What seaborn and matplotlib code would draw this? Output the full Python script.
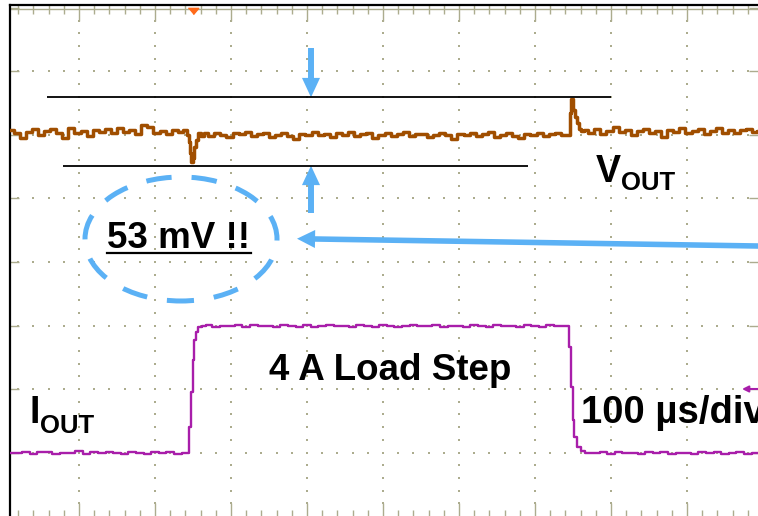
import numpy as np
import pandas as pd
import matplotlib
matplotlib.use("Agg")
import matplotlib.pyplot as plt
from matplotlib.patches import Ellipse
from matplotlib.ticker import MultipleLocator, FixedLocator
import seaborn as sns

# ---------------- data ----------------
# V_OUT trace: time in µs, deviation from the nominal level in mV (50 mV/div)
vout_t = [10, 18, 26, 34, 42, 50, 58, 66, 74, 82, 90, 98, 106, 114, 122, 130, 138, 146,
          154, 162, 170, 178, 186, 194, 202, 210, 218, 226, 234, 240,
          244, 245.5, 247, 249, 250.5, 252.5, 255, 258, 262,
          266, 274, 282, 290, 298, 306, 314, 322, 330, 338, 346, 354, 362, 370, 378, 386,
          394, 402, 410, 418, 426, 434, 442, 450, 458, 466, 474, 482, 490, 498, 506, 514,
          522, 530, 538, 546, 554, 562, 570, 578, 586, 594, 602, 610, 618, 626, 634, 642,
          650, 658, 666, 674, 682, 690, 698, 706, 714, 722, 730, 738,
          742, 745, 747, 749, 751.3, 754, 757, 759.2, 762,
          766, 774, 782, 790, 798, 806, 814, 822, 830, 838, 846, 854, 862, 870, 878, 886,
          894, 902, 910, 918, 926, 934, 942, 950, 958, 966, 974, 982, 990, 994]
vout_mv = [0.8, -1.2, -5.5, -0.4, 2.2, -2.6, 0.6, 1.8, -1.0, -5.0, 2.8, -1.4, 0.4, -3.2,
           1.2, -0.2, 1.6, -0.9, 2.4, -0.6, 0.8, -2.2, 5.0, 3.4, -1.1, 0.5, -1.7, 1.3, -0.3, 0.9,
           -3.0, -8.0, -16.9, -23.8, -20.9, -12.0, -6.7, -1.4, -3.5,
           -1.2, -3.5, -0.8, -2.9, -4.6, -1.5, -2.2, -0.4, -3.8, -2.0, -1.1, -4.0, -2.6, -0.9,
           -3.3, -5.8, -1.8, -2.4, -0.6, -3.1, -2.2, -4.4, -1.4, -2.8, -0.7, -3.6, -2.1, -1.3,
           -4.9, -2.5, -1.0, -3.2, -2.0, -0.5, -3.7, -2.3, -1.6, -4.2, -2.7, -0.8, -3.0, -6.0,
           -1.9, -2.4, -1.1, -3.4, -2.2, -0.6, -4.1, -2.6, -1.5, -3.3, -5.2, -1.7, -2.9, -0.9,
           -3.5, -2.0, -1.2, -3.0,
           -2.5, -2.8, 14.3, 25.3, 16.9, 11.6, 6.5, 1.7, 0.5,
           1.4, -0.8, 2.0, -1.6, 0.3, 3.5, -0.5, 1.1, -2.8, 0.7, 1.9, -1.2, 0.2, -4.6, 1.5,
           -0.3, 2.6, -1.0, 0.6, 1.8, -2.0, 0.4, 3.0, -0.9, 1.2, -1.5, 0.8, 2.3, -0.4, 0.6]

# I_OUT trace: time in µs, current in A (2 A/div)
iout_t = [10, 20, 30, 40, 50, 60, 70, 80, 90, 100, 110, 120, 130, 140, 150, 160, 170, 180,
          190, 200, 210, 220, 230, 240,
          243.4, 245.9, 248.3, 250.4, 252.6, 254.9, 259.2, 263.2,
          270, 280, 290, 300, 310, 320, 330, 340, 350, 360, 370, 380, 390, 400, 410, 420,
          430, 440, 450, 460, 470, 480, 490, 500, 510, 520, 530, 540, 550, 560, 570, 580,
          590, 600, 610, 620, 630, 640, 650, 660, 670, 680, 690, 700, 710, 720, 730, 740,
          743.8, 746.1, 748.3, 750.4, 752.6, 757.0, 763.6, 768.0,
          780, 790, 800, 810, 820, 830, 840, 850, 860, 870, 880, 890, 900, 910, 920, 930,
          940, 950, 960, 970, 980, 990, 994]
iout_a = [0.00, -0.03, 0.02, -0.05, 0.01, 0.03, -0.04, 0.00, -0.02, 0.04, -0.06, 0.01,
          -0.03, 0.02, 0.00, -0.05, 0.03, -0.01, -0.04, 0.02, -0.02, 0.01, -0.05, 0.00,
          0.00, 0.80, 1.89, 2.91, 3.54, 3.80, 3.96, 4.00,
          4.02, 3.95, 4.00, 3.97, 4.03, 3.94, 4.01, 3.98, 4.00, 3.95, 4.02, 3.99, 3.96, 4.01,
          3.94, 4.00, 4.03, 3.97, 3.99, 3.95, 4.01, 4.00, 3.96, 4.02, 3.98, 3.94, 4.00, 4.01,
          3.97, 3.99, 4.03, 3.95, 4.00, 3.98, 3.96, 4.02, 3.99, 3.94, 4.01, 3.97, 4.00, 3.95,
          4.02, 3.98, 3.96, 4.01, 3.97, 3.99,
          4.00, 3.33, 2.07, 1.02, 0.50, 0.18, 0.06, 0.00,
          -0.02, 0.01, -0.05, 0.02, -0.03, 0.00, -0.06, 0.01, -0.02, 0.03, -0.04, 0.00,
          -0.01, -0.05, 0.02, -0.03, 0.01, -0.04, 0.00, 0.02, -0.05, -0.01, 0.00]

peak_levels_mv = [26.9, -26.9]          # the two cursor lines (53 mV apart)
label_pp = "53 mV !!"
label_step = "4 A Load Step"
label_time = "100 µs/div"
label_v, label_i, label_sub = "V", "I", "OUT"

# scope scales
VOUT_OFFSET_DIV, VOUT_MV_PER_DIV = 6.055, 50.0
IOUT_OFFSET_DIV, IOUT_A_PER_DIV = 1.0, 2.0

# ---------------- figure geometry ----------------
W, H = 758, 516
BROWN = "#A04E00"
PURPLE = "#A81EAA"
BLUE = "#5BB1F5"
OLIVE = "#ACAC8E"
FONT = ["Liberation Sans", "DejaVu Sans"]


def tx(p):   # picture x pixel -> time (µs)
    return 100 + (p - 79) / 0.76


def vy(y):   # picture y pixel -> divisions
    return (516 - y) / 63.5


fig = plt.figure(figsize=(W / 100, H / 100), dpi=100)
ax = fig.add_axes([9.5 / W, 0, 1 - 9.5 / W, 511 / H])
ax.set_facecolor("white")
ax.set_xlim(tx(9.5), tx(758))
ax.set_ylim(0, 511 / 63.5)

# graticule dots
gx, gy = [], []
for v in range(1, 8):
    for t in range(20, 1000, 20):
        gx.append(t); gy.append(v)
for t in range(100, 1000, 100):
    for k in range(1, 40):
        gx.append(t); gy.append(k / 5)
ax.scatter(gx, gy, s=2.2, marker="s", color=OLIVE, linewidths=0, zorder=1)

# spines / ticks
for s in ["right", "bottom"]:
    ax.spines[s].set_visible(False)
for s in ["left", "top"]:
    ax.spines[s].set_color("black")
    ax.spines[s].set_linewidth(1.6)
ax.axhline(vy(9), color=OLIVE, lw=1.0, zorder=1)

ax.xaxis.set_major_locator(MultipleLocator(100))
ax.xaxis.set_minor_locator(MultipleLocator(20))
ax.tick_params(axis="x", which="major", direction="in", top=True, bottom=False,
               length=11.5, width=1.0, color=OLIVE, labelbottom=False, labeltop=False)
ax.tick_params(axis="x", which="minor", direction="in", top=True, bottom=False,
               length=6.5, width=1.0, color=OLIVE)
ax.yaxis.set_major_locator(FixedLocator(range(1, 9)))
ax.tick_params(axis="y", which="major", direction="in", left=True, right=True,
               length=6.5, width=1.0, color=OLIVE, labelleft=False, labelright=False)
ax.yaxis.set_minor_locator(FixedLocator([]))

sec = ax.secondary_xaxis("bottom")
sec.xaxis.set_major_locator(MultipleLocator(100))
sec.xaxis.set_minor_locator(MultipleLocator(20))
sec.tick_params(axis="x", which="major", direction="in", length=9.5, width=1.0,
                color=OLIVE, labelbottom=False)
sec.tick_params(axis="x", which="minor", direction="in", length=4.5, width=1.0,
                color=OLIVE)
sec.spines["bottom"].set_visible(False)

# ---------------- traces ----------------
df_v = pd.DataFrame({"t": vout_t,
                     "div": [VOUT_OFFSET_DIV + m / VOUT_MV_PER_DIV for m in vout_mv]})
df_i = pd.DataFrame({"t": iout_t,
                     "div": [IOUT_OFFSET_DIV + a / IOUT_A_PER_DIV for a in iout_a]})
sns.lineplot(data=df_v, x="t", y="div", ax=ax, color=BROWN, lw=2.5,
             estimator=None, drawstyle="steps-mid", zorder=3)
sns.lineplot(data=df_i, x="t", y="div", ax=ax, color=PURPLE, lw=1.7,
             estimator=None, drawstyle="steps-mid", zorder=3)
ax.set_xlabel(""); ax.set_ylabel("")

# cursor lines
lv = [VOUT_OFFSET_DIV + m / VOUT_MV_PER_DIV for m in peak_levels_mv]
ax.hlines(lv[0], tx(47), tx(611), color="black", lw=1.3, zorder=4)
ax.hlines(lv[1], tx(63), tx(528), color="black", lw=1.3, zorder=4)

# trigger markers
ax.plot([tx(193)], [vy(11.5)], marker=[(-5, 3), (5, 3), (0, -3)], ms=7.5,
        color="#FF6A1A", clip_on=False, zorder=5, ls="none")
ax.annotate("", xy=(tx(742), IOUT_OFFSET_DIV + 2 / IOUT_A_PER_DIV),
            xytext=(tx(760), IOUT_OFFSET_DIV + 2 / IOUT_A_PER_DIV),
            arrowprops=dict(arrowstyle="-|>", color=PURPLE, lw=1.5,
                            mutation_scale=9, shrinkA=0, shrinkB=0))

# blue arrows
ap = dict(width=4.3, headwidth=13, headlength=14, color=BLUE, shrink=0, lw=0)
ax.annotate("", xy=(tx(311), lv[0]), xytext=(tx(311), vy(48)), arrowprops=ap)
ax.annotate("", xy=(tx(311), lv[1]), xytext=(tx(311), vy(213)), arrowprops=ap)
ap2 = dict(width=4.0, headwidth=13, headlength=13, color=BLUE, shrink=0, lw=0)
ax.annotate("", xy=(tx(297), vy(238.7)), xytext=(tx(770), vy(246.2)),
            arrowprops=ap2, annotation_clip=False)

# dashed ellipse
ell = Ellipse((tx(181), vy(239)), width=192 / 0.76, height=124 / 63.5,
              fill=False, edgecolor=BLUE, lw=3.6, zorder=4)
ell.set_linestyle((2.5, (5.1, 4.0)))
ax.add_patch(ell)

# texts
tk = dict(fontfamily=FONT, fontweight="bold", color="black",
          ha="left", va="baseline", zorder=6)
ax.text(tx(107), vy(248), label_pp, fontsize=26.5, **tk)
ax.plot([tx(107), tx(251)], [vy(252.5), vy(252.5)], color="black", lw=1.6, zorder=6)
ax.text(tx(596), vy(182), label_v, fontsize=27, **tk)
ax.text(tx(621), vy(190), label_sub, fontsize=18.5, **tk)
ax.text(tx(30), vy(423), label_i, fontsize=27, **tk)
ax.text(tx(40), vy(433), label_sub, fontsize=18.5, **tk)
ax.text(tx(269), vy(380), label_step, fontsize=26.5, **tk)
ax.text(tx(581), vy(423), label_time, fontsize=27.5, **tk)

fig.savefig("out.png", dpi=100, facecolor="white")
